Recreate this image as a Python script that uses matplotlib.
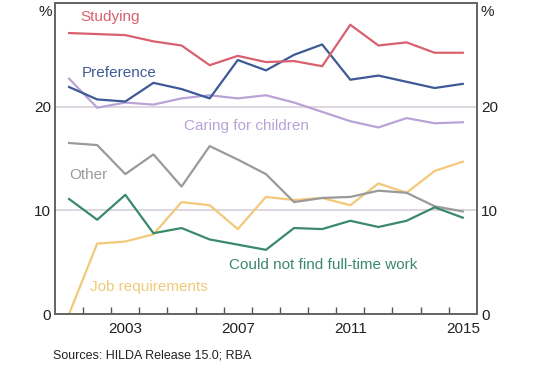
import matplotlib
matplotlib.use("Agg")
import matplotlib.pyplot as plt
import numpy as np

plt.rcParams['font.family'] = ['Liberation Sans', 'DejaVu Sans']

years = list(range(2001, 2016))
studying = [27.1, 27.0, 26.9, 26.3, 25.9, 24.0, 24.9, 24.3, 24.4, 23.9, 27.9, 25.9, 26.2, 25.2, 25.2]
preference = [21.9, 20.7, 20.5, 22.3, 21.7, 20.8, 24.5, 23.5, 25.0, 26.0, 22.6, 23.0, 22.4, 21.8, 22.2]
caring = [22.7, 19.9, 20.4, 20.2, 20.8, 21.1, 20.8, 21.1, 20.4, 19.5, 18.6, 18.0, 18.9, 18.4, 18.5]
other = [16.5, 16.3, 13.5, 15.4, 12.3, 16.2, 14.9, 13.5, 10.8, 11.2, 11.3, 11.9, 11.7, 10.4, 9.9]
could_not = [11.1, 9.1, 11.5, 7.8, 8.3, 7.2, 6.7, 6.2, 8.3, 8.2, 9.0, 8.4, 9.0, 10.3, 9.3]
job_req = [0.0, 6.8, 7.0, 7.7, 10.8, 10.5, 8.2, 11.3, 11.0, 11.2, 10.5, 12.6, 11.7, 13.8, 14.7]

year_labels = [2003, 2007, 2011, 2015]
y_ticks = [0, 10, 20]

c_red = '#d9606f'
c_blue = '#3e5a96'
c_purple = '#b9a3d6'
c_grey = '#9a9a9a'
c_green = '#3a8a6a'
c_yellow = '#f2c978'

fig = plt.figure(figsize=(5.5, 3.7), dpi=100)
ax = fig.add_axes([0.1, 0.151, 0.767, 0.841])

ax.axhline(10, color='#d8d0dc', lw=1.2, zorder=1)
ax.axhline(20, color='#d8d0dc', lw=1.2, zorder=1)

lw = 1.6
ax.plot(years, job_req, color=c_yellow, lw=lw, zorder=2)
ax.plot(years, other, color=c_grey, lw=lw, zorder=2)
ax.plot(years, could_not, color=c_green, lw=lw, zorder=3)
ax.plot(years, caring, color=c_purple, lw=lw, zorder=2)
ax.plot(years, preference, color=c_blue, lw=lw, zorder=3)
ax.plot(years, studying, color=c_red, lw=lw, zorder=3)

ax.set_xlim(2000.5, 2015.5)
ax.set_ylim(0, 30)

ax.set_xticks(year_labels)
ax.set_xticklabels([str(y) for y in year_labels])
ax.set_xticks(np.arange(2001.5, 2015.0, 1.0), minor=True)
ax.tick_params(axis='x', which='major', length=0, labelsize=11, pad=6, colors='#222222')
ax.tick_params(axis='x', which='minor', direction='in', length=5, width=1, color='#555555')
ax.set_yticks(y_ticks)
ax.set_yticklabels([str(v) for v in y_ticks])
ax.tick_params(axis='y', length=0, labelsize=11, pad=3, colors='#222222')

ax2 = ax.twinx()
ax2.set_ylim(0, 30)
ax2.set_yticks(y_ticks)
ax2.set_yticklabels([str(v) for v in y_ticks])
ax2.tick_params(axis='y', length=0, labelsize=11, pad=3, colors='#222222')

for a in (ax, ax2):
    for s in a.spines.values():
        s.set_color('#666666')
        s.set_linewidth(1.3)

fig.text(45 / 550, 1 - 12 / 370, '%', fontsize=11, ha='center', va='center', color='#222222')
fig.text(487 / 550, 1 - 12 / 370, '%', fontsize=11, ha='center', va='center', color='#222222')

fs = 11
ax.text(2001.4, 28.6, 'Studying', color=c_red, fontsize=fs, va='center', ha='left')
ax.text(2001.45, 23.2, 'Preference', color=c_blue, fontsize=fs, va='center', ha='left')
ax.text(2005.1, 18.1, 'Caring for children', color=c_purple, fontsize=fs, va='center', ha='left')
ax.text(2001.0, 13.4, 'Other', color=c_grey, fontsize=fs, va='center', ha='left')
ax.text(2006.7, 4.7, 'Could not find full-time work', color=c_green, fontsize=fs, va='center', ha='left')
ax.text(2001.75, 2.6, 'Job requirements', color=c_yellow, fontsize=fs, va='center', ha='left')

fig.text(53 / 550, 1 - 356 / 370, 'Sources: HILDA Release 15.0; RBA', fontsize=9, ha='left', va='center', color='#222222')

fig.savefig('out.png', dpi=100)
